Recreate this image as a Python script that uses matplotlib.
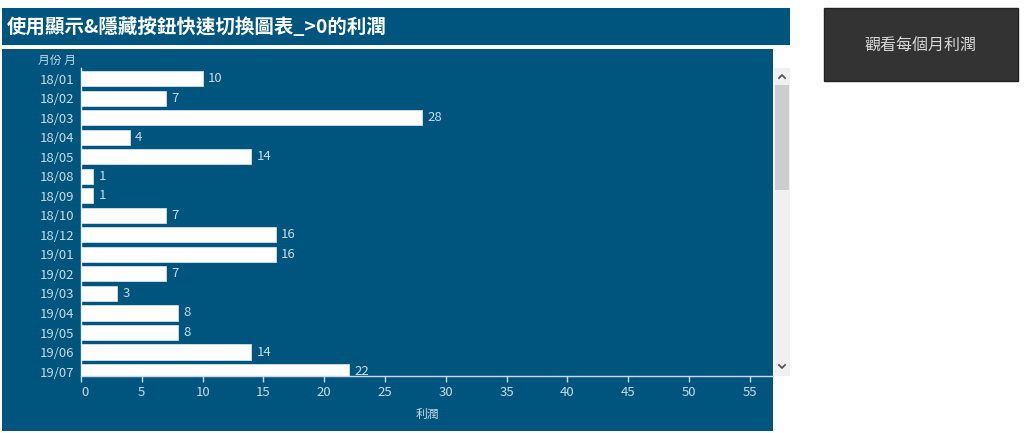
import matplotlib
matplotlib.use("Agg")
import matplotlib.pyplot as plt
from matplotlib.patches import Rectangle
from matplotlib.lines import Line2D
import matplotlib.transforms as mtransforms

plt.rcParams['font.family'] = ['Noto Sans CJK TC', 'DejaVu Sans']

months = ["18/01", "18/02", "18/03", "18/04", "18/05", "18/08", "18/09", "18/10",
          "18/12", "19/01", "19/02", "19/03", "19/04", "19/05", "19/06", "19/07"]
profit = [10, 7, 28, 4, 14, 1, 1, 7, 16, 16, 7, 3, 8, 8, 14, 22]
xticks = [0, 5, 10, 15, 20, 25, 30, 35, 40, 45, 50, 55]

title = "使用顯示&隱藏按鈕快速切換圖表_>0的利潤"
button_text = "觀看每個月利潤"
row_header = "月份 月"
x_label = "利潤"

W, H = 1024, 433
BLUE = "#00557f"
LIGHT = "#c9dbe8"

fig = plt.figure(figsize=(W / 100, H / 100), dpi=100, facecolor="white")


def rect(x0, y0, x1, y1, **kw):
    fig.add_artist(Rectangle((x0 / W, 1 - y1 / H), (x1 - x0) / W, (y1 - y0) / H,
                             transform=fig.transFigure, zorder=-5, **kw))


def ftext(x, y, s, **kw):
    fig.text(x / W, 1 - y / H, s, zorder=10, **kw)


def fline(xs, ys, **kw):
    fig.add_artist(Line2D([x / W for x in xs], [1 - y / H for y in ys],
                          transform=fig.transFigure, zorder=10, **kw))


# Title banner
rect(2, 8, 790, 45, facecolor=BLUE, edgecolor="none")
ftext(7, 27, title, color="white", fontsize=14, fontweight="bold", va="center", ha="left")

# Chart panel
rect(2, 49, 773, 431, facecolor=BLUE, edgecolor="none")

# Scrollbar
rect(774, 68, 790, 376, facecolor="#f0f0f0", edgecolor="none")
rect(775, 85, 789, 190, facecolor="#cdcdcd", edgecolor="none")
fline([779, 782, 785], [78, 75, 78], color="#555555", linewidth=1.3)
fline([779, 782, 785], [365, 368, 365], color="#555555", linewidth=1.3)

# Button
rect(824, 8, 1018, 81, facecolor="#333333", edgecolor="#222222", linewidth=1)
ftext(921, 45, button_text, color="#d8d8d8", fontsize=11.5, ha="center", va="center")

# Header & x label
ftext(57, 60, row_header, color=LIGHT, fontsize=8.5, ha="center", va="center")
ftext(427, 414, x_label, color=LIGHT, fontsize=8.5, ha="center", va="center")

# Axes
ax = fig.add_axes([81 / W, 1 - 376 / H, (773 - 81) / W, (376 - 68) / H])
ax.set_zorder(5)
ax.set_facecolor(BLUE)
ypos = list(range(len(months)))
ax.barh(ypos, profit, height=0.77, color="white", edgecolor="#d5e0e8", linewidth=0.6)
for y, v in zip(ypos, profit):
    t = ax.annotate(str(v), (v, y), xytext=(4, 0), textcoords="offset points",
                    color=LIGHT, fontsize=9.5, va="center", ha="left",
                    annotation_clip=False)
    t.set_clip_on(True)
    t.set_clip_path(ax.patch)
ax.set_xlim(0, 56.9)
ax.set_ylim(15.23, -0.56)
ax.set_yticks(ypos)
ax.set_yticklabels(months)
ax.set_xticks(xticks)
ax.tick_params(axis="y", length=0, colors=LIGHT, labelsize=9.5, pad=5)
ax.tick_params(axis="x", length=4, colors=LIGHT, labelsize=9.5, pad=3, width=1)
# first tick label nudged right as in the reference
lbl0 = ax.get_xticklabels()[0]
lbl0.set_transform(lbl0.get_transform() +
                   mtransforms.ScaledTranslation(4 / 100, 0, fig.dpi_scale_trans))
for s in ["top", "right"]:
    ax.spines[s].set_visible(False)
ax.spines["left"].set_color("#e6eef3")
ax.spines["bottom"].set_color("#c9dbe8")
ax.spines["left"].set_linewidth(1)
ax.spines["bottom"].set_linewidth(1)

fig.savefig("out.png", dpi=100, facecolor="white")
